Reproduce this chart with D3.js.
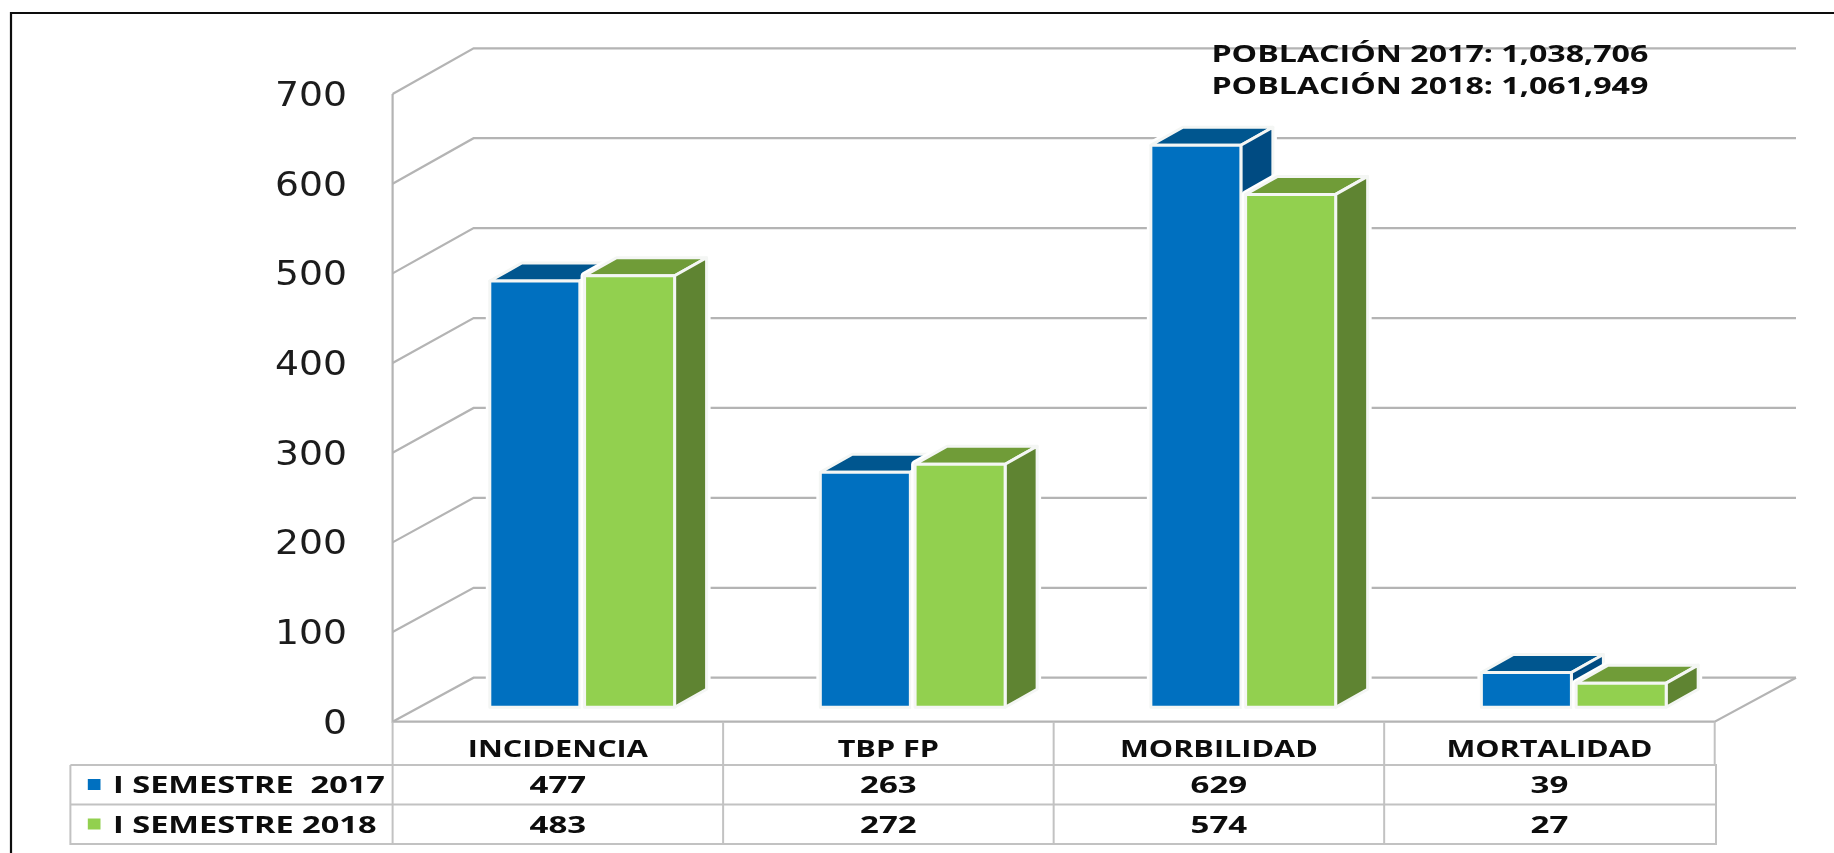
<!DOCTYPE html>
<html lang="es">
<head>
<meta charset="utf-8">
<title>Chart</title>
<script src="https://cdn.jsdelivr.net/npm/d3@7"></script>
<style>
html,body{margin:0;padding:0;background:#fff;overflow:hidden}
svg{display:block}
text{white-space:pre;fill:#0a0a0a}
.bold{font-family:"Open Sans",sans-serif;font-weight:700}
</style>
</head>
<body>
<svg id="chart" width="1834" height="853"></svg>
<script>
const categories = ["INCIDENCIA", "TBP FP", "MORBILIDAD", "MORTALIDAD"];
const seriesNames = ["I SEMESTRE  2017", "I SEMESTRE 2018"];
const values2017 = [477, 263, 629, 39];
const values2018 = [483, 272, 574, 27];
const yTicks = [0, 100, 200, 300, 400, 500, 600, 700];
const notes = ["POBLACIÓN 2017: 1,038,706", "POBLACIÓN 2018: 1,061,949"];

const seriesValues = [values2017, values2018];
const colors = [
  {front: "#0070c0", top: "#00568f", side: "#004b82"},
  {front: "#92d050", top: "#6f9c38", side: "#5e8430"}
];

const svg = d3.select("#chart");
const defs = svg.append("defs");
defs.append("filter").attr("id", "soft").attr("x", "-2%").attr("y", "-2%").attr("width", "104%").attr("height", "104%")
  .append("feGaussianBlur").attr("stdDeviation", 0.75);
const root = svg.append("g").attr("filter", "url(#soft)");

const x = d3.scaleBand().domain(categories).range([392.6, 1714.7]);
const xSeries = d3.scaleBand().domain(d3.range(2)).range([97.2, 282]).paddingInner(0.05);
const yFront = d3.scaleLinear().domain([0, 700]).range([721.7, 94]);
const yBack = d3.scaleLinear().domain([0, 700]).range([677.7, 48.3]);
const yBar = d3.scaleLinear().domain([0, 700]).range([707.3, 81.8]);
const rows = d3.scaleBand().domain(seriesNames).range([765, 844]);
const depth = {dx: 32, dy: -18};
const wall = {dx: 81, right: 1796};
const x0 = x.range()[0], x1 = x.range()[1];
const gridColor = "#b4b4b4", tableColor = "#c2c2c2";

// Outer frame
root.append("path").attr("d", "M11,853V13H1834").attr("fill", "none").attr("stroke", "#111").attr("stroke-width", 2.2);

// 3D walls / gridlines
root.append("g").selectAll("path").data(yTicks).join("path")
  .attr("fill", "none").attr("stroke", gridColor).attr("stroke-width", 2.2)
  .attr("d", d => `M${x0},${yFront(d)}L${x0 + wall.dx},${yBack(d)}H${wall.right}`);
root.append("path").attr("fill", "none").attr("stroke", gridColor).attr("stroke-width", 2.2)
  .attr("d", `M${x0},${yFront(700)}V${yFront(0)}H${x1}L${wall.right},${yBack(0)}`);

// Bars
const line = pts => "M" + pts.map(p => p.join(",")).join("L") + "Z";
const barData = categories.flatMap((c, i) => seriesValues.map((vals, s) => ({c, s, v: vals[i]})));
const bars = root.append("g").selectAll("g").data(barData).join("g");
const geom = d => {
  const l = x(d.c) + xSeries(d.s), r = l + xSeries.bandwidth(), t = yBar(d.v), b = yBar(0);
  return {l, r, t, b};
};
const outline = d => {
  const {l, r, t, b} = geom(d);
  return line([[l, b], [l, t], [l + depth.dx, t + depth.dy], [r + depth.dx, t + depth.dy], [r + depth.dx, b + depth.dy], [r, b]]);
};
const edge = "#f4f6f4", edgeW = 3;
bars.append("path").attr("d", outline).attr("fill", "#fff").attr("stroke", "#fff").attr("stroke-width", 8).attr("stroke-linejoin", "round");
bars.append("path").attr("fill", d => colors[d.s].top).attr("stroke", edge).attr("stroke-width", edgeW).attr("stroke-linejoin", "round")
  .attr("d", d => { const {l, r, t} = geom(d); return line([[l, t], [l + depth.dx, t + depth.dy], [r + depth.dx, t + depth.dy], [r, t]]); });
bars.append("path").attr("fill", d => colors[d.s].side).attr("stroke", edge).attr("stroke-width", edgeW).attr("stroke-linejoin", "round")
  .attr("d", d => { const {r, t, b} = geom(d); return line([[r, t], [r + depth.dx, t + depth.dy], [r + depth.dx, b + depth.dy], [r, b]]); });
bars.append("path").attr("fill", d => colors[d.s].front).attr("stroke", edge).attr("stroke-width", edgeW).attr("stroke-linejoin", "round")
  .attr("d", d => { const {l, r, t, b} = geom(d); return line([[l, t], [r, t], [r, b], [l, b]]); });

// Stretches a text selection horizontally so that its reference string reaches a target width
function fit(sel, factor) {
  sel.each(function () {
    const w = this.getComputedTextLength();
    d3.select(this).attr("textLength", w * factor).attr("lengthAdjust", "spacingAndGlyphs");
  });
}
function factorFor(sel, width) {
  return width / sel.node().getComputedTextLength();
}

// Y axis
const axis = root.append("g").attr("transform", "translate(347,0)")
  .call(d3.axisLeft(yFront).tickValues(yTicks).tickSize(0).tickPadding(0).tickFormat(d3.format("d")));
axis.select(".domain").remove();
const tickText = axis.selectAll("text").attr("dy", 11.6).attr("font-family", "'DejaVu Sans',sans-serif").attr("font-size", 34).style("fill", "#1c1c1c");
fit(tickText, factorFor(tickText.filter((d, i) => i === 7), 72));

// Data table lines
const tbl = root.append("g").attr("fill", "none").attr("stroke", tableColor).attr("stroke-width", 2);
tbl.append("path").attr("d", `M70.4,${rows.range()[0]}V${rows.range()[1]}H1716V${rows.range()[0]}H70.4`);
tbl.append("path").attr("d", `M70.4,${rows(seriesNames[1])}H1716`);
tbl.append("g").selectAll("path").data(categories.slice(1)).join("path")
  .attr("d", d => `M${x(d)},${yFront(0)}V${rows.range()[1]}`);
tbl.append("path").attr("d", `M${x0},${yFront(0)}V${rows.range()[1]}`);
tbl.append("path").attr("d", `M${x1},${yFront(0)}V${rows.range()[0]}`);

// Table text
const header = root.append("g").selectAll("text").data(categories).join("text")
  .attr("class", "bold").attr("font-size", 23).attr("text-anchor", "middle")
  .attr("x", d => x(d) + x.bandwidth() / 2).attr("y", 757).text(d => d);
fit(header, factorFor(header.filter((d, i) => i === 0), 180));

const cellData = seriesNames.flatMap((n, s) => categories.map((c, i) => ({n, c, v: seriesValues[s][i]})));
const cells = root.append("g").selectAll("text").data(cellData).join("text")
  .attr("class", "bold").attr("font-size", 24).attr("text-anchor", "middle")
  .attr("x", d => x(d.c) + x.bandwidth() / 2).attr("y", d => rows(d.n) + 28).text(d => d.v);
fit(cells, factorFor(cells.filter((d, i) => i === 0), 56.6));

const legendText = root.append("g").selectAll("text").data(seriesNames).join("text")
  .attr("class", "bold").attr("font-size", 23).attr("x", 113).attr("y", d => rows(d) + 28).text(d => d);
fit(legendText, factorFor(legendText.filter((d, i) => i === 1), 263.5));
root.append("g").selectAll("rect").data(seriesNames).join("rect")
  .attr("x", 87.8).attr("width", 12.7).attr("height", 11)
  .attr("y", d => rows(d) + 14).attr("fill", (d, i) => colors[i].front);

// Population note
const noteText = root.append("g").selectAll("text").data(notes).join("text")
  .attr("class", "bold").attr("font-size", 24).attr("x", 1211.4)
  .attr("y", (d, i) => 61.7 + i * 32.6).text(d => d);
fit(noteText, factorFor(noteText.filter((d, i) => i === 0), 437));
</script>
</body>
</html>
